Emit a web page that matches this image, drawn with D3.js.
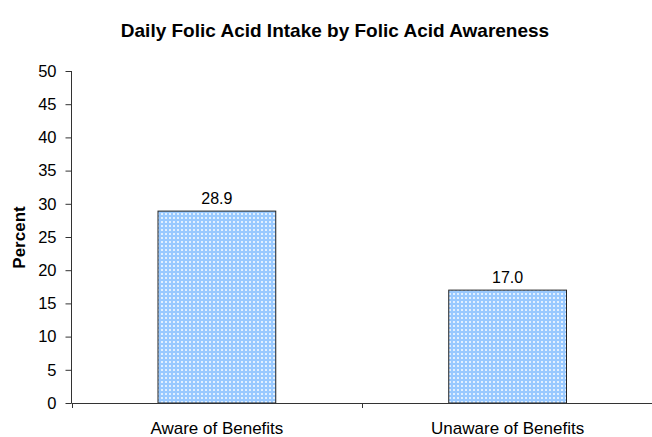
<!DOCTYPE html>
<html><head><meta charset="utf-8">
<script src="https://cdn.jsdelivr.net/npm/d3@7"></script>
<style>body{margin:0;background:#fff}svg{display:block}text{font-family:Arial,"Liberation Sans",sans-serif}</style>
</head><body><svg id="c" width="652" height="437"></svg>
<script>
const categories = ["Aware of Benefits", "Unaware of Benefits"];
const values = [28.9, 17.0];
const yTicks = [0,5,10,15,20,25,30,35,40,45,50];

const svg = d3.select("#c");
const m = {l:71.5, r:652, t:71, b:403};
const x = d3.scaleBand().domain(categories).range([m.l, 653]).paddingInner(0).paddingOuter(0);
const y = d3.scaleLinear().domain([0,50]).range([m.b, m.t]);

const defs = svg.append("defs");
const pat = defs.append("pattern").attr("id","dots").attr("patternUnits","userSpaceOnUse").attr("width",4).attr("height",4);
pat.append("rect").attr("width",4).attr("height",4).attr("fill","#99c9ff");
pat.append("rect").attr("x",1).attr("y",1).attr("width",2).attr("height",2).attr("fill","#e2f0ff");

svg.append("text").attr("x",335).attr("y",37).attr("text-anchor","middle")
  .attr("font-size",19).attr("font-weight","bold")
  .text("Daily Folic Acid Intake by Folic Acid Awareness");

const bw = x.bandwidth()*0.405;
svg.selectAll(".bar").data(values).join("rect")
  .attr("x",(d,i)=>x(categories[i])+x.bandwidth()/2-bw/2)
  .attr("y",d=>y(d)).attr("width",bw).attr("height",d=>y(0)-y(d))
  .attr("fill","url(#dots)").attr("stroke","#222").attr("stroke-width",1);

svg.selectAll(".lbl").data(values).join("text")
  .attr("x",(d,i)=>x(categories[i])+x.bandwidth()/2).attr("y",d=>y(d)-7)
  .attr("text-anchor","middle").attr("font-size",16).text(d=>d.toFixed(1));

const ya = svg.append("g").attr("transform",`translate(${m.l},0)`)
  .call(d3.axisLeft(y).tickValues(yTicks).tickSize(6).tickPadding(9).tickFormat(d3.format("d")));
ya.select(".domain").attr("d",`M0,${m.t}V${m.b}`).attr("stroke","#333");
ya.selectAll("text").attr("font-size",16.5).attr("font-family","Arial,'Liberation Sans',sans-serif").attr("fill","#000");
ya.selectAll("line").attr("stroke","#333");

const xg = svg.append("g");
xg.append("line").attr("x1",m.l).attr("x2",652).attr("y1",y(0)+0.5).attr("y2",y(0)+0.5).attr("stroke","#333");
xg.selectAll(".xt").data([m.l, m.l + x.bandwidth()]).join("line")
  .attr("x1",d=>Math.round(d)+0.5).attr("x2",d=>Math.round(d)+0.5).attr("y1",y(0)).attr("y2",y(0)+5).attr("stroke","#333");
xg.selectAll(".xl").data(categories).join("text")
  .attr("x",d=>x(d)+x.bandwidth()/2).attr("y",434).attr("text-anchor","middle").attr("font-size",17)
  .text(d=>d);

svg.append("text").attr("transform","translate(25,237.5) rotate(-90)").attr("text-anchor","middle")
  .attr("font-size",17).attr("font-weight","bold").text("Percent");
</script></body></html>
